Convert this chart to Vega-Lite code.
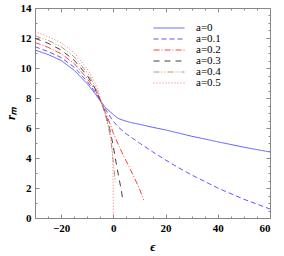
{
  "$schema": "https://vega.github.io/schema/vega-lite/v6.json",
  "width": 235,
  "height": 210,
  "autosize": {"type": "none"},
  "padding": {"left": 35, "top": 8, "right": 14, "bottom": 38},
  "background": "white",
  "config": {
    "view": {"stroke": "#888888", "strokeWidth": 1},
    "axis": {
      "domain": false,
      "grid": false,
      "tickColor": "#888888",
      "labelFont": "Liberation Serif",
      "labelFontWeight": "bold",
      "labelFontSize": 11,
      "labelColor": "black",
      "titleFont": "Liberation Serif",
      "titleColor": "black"
    },
    "legend": {
      "orient": "none", "legendX": 118, "legendY": 14.5, "title": null, "padding": 0,
      "symbolType": "stroke", "symbolSize": 961, "symbolStrokeWidth": 1,
      "labelFont": "Liberation Serif", "labelFontSize": 11, "labelColor": "black", "labelOffset": 11,
      "clipHeight": 11, "rowPadding": -2.4
    }
  },
  "data": {"values": [
    {"a": "a=0", "e": -30, "r": 11.2}, {"a": "a=0", "e": -25, "r": 10.9}, {"a": "a=0", "e": -20, "r": 10.5}, {"a": "a=0", "e": -15, "r": 9.85}, {"a": "a=0", "e": -10, "r": 8.95}, {"a": "a=0", "e": -7, "r": 8.3}, {"a": "a=0", "e": -5, "r": 7.8}, {"a": "a=0", "e": -3, "r": 7.35}, {"a": "a=0", "e": -1, "r": 7.05}, {"a": "a=0", "e": 0, "r": 6.9}, {"a": "a=0", "e": 1, "r": 6.75}, {"a": "a=0", "e": 2, "r": 6.63}, {"a": "a=0", "e": 4, "r": 6.5}, {"a": "a=0", "e": 7, "r": 6.35}, {"a": "a=0", "e": 10, "r": 6.25}, {"a": "a=0", "e": 15, "r": 6.05}, {"a": "a=0", "e": 20, "r": 5.87}, {"a": "a=0", "e": 30, "r": 5.45}, {"a": "a=0", "e": 40, "r": 5.08}, {"a": "a=0", "e": 50, "r": 4.72}, {"a": "a=0", "e": 60, "r": 4.4},
    {"a": "a=0.1", "e": -30, "r": 11.42}, {"a": "a=0.1", "e": -25, "r": 11.1}, {"a": "a=0.1", "e": -20, "r": 10.7}, {"a": "a=0.1", "e": -15, "r": 10.05}, {"a": "a=0.1", "e": -10, "r": 9.1}, {"a": "a=0.1", "e": -7, "r": 8.4}, {"a": "a=0.1", "e": -5, "r": 7.85}, {"a": "a=0.1", "e": -3, "r": 7.25}, {"a": "a=0.1", "e": -1, "r": 6.7}, {"a": "a=0.1", "e": 0, "r": 6.45}, {"a": "a=0.1", "e": 2, "r": 6.05}, {"a": "a=0.1", "e": 5, "r": 5.6}, {"a": "a=0.1", "e": 10, "r": 5.0}, {"a": "a=0.1", "e": 15, "r": 4.42}, {"a": "a=0.1", "e": 20, "r": 3.87}, {"a": "a=0.1", "e": 25, "r": 3.35}, {"a": "a=0.1", "e": 30, "r": 2.87}, {"a": "a=0.1", "e": 40, "r": 2.0}, {"a": "a=0.1", "e": 50, "r": 1.25}, {"a": "a=0.1", "e": 60, "r": 0.6},
    {"a": "a=0.2", "e": -30, "r": 11.7}, {"a": "a=0.2", "e": -25, "r": 11.38}, {"a": "a=0.2", "e": -20, "r": 10.95}, {"a": "a=0.2", "e": -15, "r": 10.3}, {"a": "a=0.2", "e": -10, "r": 9.3}, {"a": "a=0.2", "e": -7, "r": 8.55}, {"a": "a=0.2", "e": -5, "r": 7.85}, {"a": "a=0.2", "e": -3, "r": 7.05}, {"a": "a=0.2", "e": -1, "r": 6.15}, {"a": "a=0.2", "e": 0, "r": 5.65}, {"a": "a=0.2", "e": 2, "r": 4.85}, {"a": "a=0.2", "e": 4, "r": 4.12}, {"a": "a=0.2", "e": 6, "r": 3.42}, {"a": "a=0.2", "e": 8, "r": 2.7}, {"a": "a=0.2", "e": 10, "r": 1.95}, {"a": "a=0.2", "e": 11.6, "r": 1.2},
    {"a": "a=0.3", "e": -30, "r": 11.98}, {"a": "a=0.3", "e": -25, "r": 11.65}, {"a": "a=0.3", "e": -20, "r": 11.2}, {"a": "a=0.3", "e": -15, "r": 10.52}, {"a": "a=0.3", "e": -10, "r": 9.5}, {"a": "a=0.3", "e": -7, "r": 8.65}, {"a": "a=0.3", "e": -5, "r": 7.9}, {"a": "a=0.3", "e": -3, "r": 6.95}, {"a": "a=0.3", "e": -2, "r": 6.35}, {"a": "a=0.3", "e": -1, "r": 5.65}, {"a": "a=0.3", "e": 0, "r": 4.75}, {"a": "a=0.3", "e": 1, "r": 3.75}, {"a": "a=0.3", "e": 2, "r": 2.8}, {"a": "a=0.3", "e": 3, "r": 1.9}, {"a": "a=0.3", "e": 3.6, "r": 1.25},
    {"a": "a=0.4", "e": -30, "r": 12.15}, {"a": "a=0.4", "e": -25, "r": 11.85}, {"a": "a=0.4", "e": -20, "r": 11.42}, {"a": "a=0.4", "e": -15, "r": 10.75}, {"a": "a=0.4", "e": -10, "r": 9.7}, {"a": "a=0.4", "e": -7, "r": 8.78}, {"a": "a=0.4", "e": -5, "r": 7.95}, {"a": "a=0.4", "e": -3, "r": 6.85}, {"a": "a=0.4", "e": -2, "r": 6.15}, {"a": "a=0.4", "e": -1, "r": 5.25}, {"a": "a=0.4", "e": -0.3, "r": 4.2}, {"a": "a=0.4", "e": 0.3, "r": 3.2}, {"a": "a=0.4", "e": 0.8, "r": 2.4},
    {"a": "a=0.5", "e": -30, "r": 12.42}, {"a": "a=0.5", "e": -25, "r": 12.1}, {"a": "a=0.5", "e": -20, "r": 11.68}, {"a": "a=0.5", "e": -15, "r": 11.02}, {"a": "a=0.5", "e": -10, "r": 9.95}, {"a": "a=0.5", "e": -7, "r": 9.0}, {"a": "a=0.5", "e": -6, "r": 8.62}, {"a": "a=0.5", "e": -5, "r": 8.0}, {"a": "a=0.5", "e": -4, "r": 7.45}, {"a": "a=0.5", "e": -3, "r": 6.85}, {"a": "a=0.5", "e": -2, "r": 6.25}, {"a": "a=0.5", "e": -1, "r": 5.6}, {"a": "a=0.5", "e": -0.5, "r": 4.9}, {"a": "a=0.5", "e": -0.2, "r": 3.8}, {"a": "a=0.5", "e": -0.05, "r": 2.0}, {"a": "a=0.5", "e": 0, "r": 0}
  ]},
  "layer": [
    {
      "mark": {"type": "line", "strokeWidth": 1, "clip": true},
      "encoding": {
        "x": {"field": "e", "type": "quantitative",
          "scale": {"domain": [-30, 60], "nice": false, "zero": false},
          "axis": {"orient": "bottom", "title": "ϵ", "titleFontSize": 13, "titleFontStyle": "italic", "titleX": 117.5, "titleY": 28, "titleBaseline": "middle",
            "values": [-25, -20, -15, -10, -5, 0, 5, 10, 15, 20, 25, 30, 35, 40, 45, 50, 55, 60],
            "format": "d",
            "labelExpr": "datum.value % 20 === 0 ? datum.label : ''",
            "tickSize": {"condition": {"test": "datum.value % 20 === 0", "value": -4}, "value": -2},
            "labelPadding": 8}},
        "y": {"field": "r", "type": "quantitative",
          "scale": {"domain": [0, 14], "nice": false, "zero": false},
          "axis": {"orient": "left", "title": "rₘ", "titleFontSize": 13, "titleFontStyle": "italic", "titleX": -25, "titleY": 105, "titleAlign": "center", "titleBaseline": "middle", "titleAngle": -90,
            "values": [0.5, 1, 1.5, 2, 2.5, 3, 3.5, 4, 4.5, 5, 5.5, 6, 6.5, 7, 7.5, 8, 8.5, 9, 9.5, 10, 10.5, 11, 11.5, 12, 12.5, 13, 13.5, 0, 14],
            "format": "d",
            "labelExpr": "datum.value % 2 === 0 ? datum.label : ''",
            "tickSize": {"condition": {"test": "datum.value % 2 === 0", "value": -4}, "value": -2},
            "labelPadding": 8}},
        "color": {"field": "a", "type": "nominal", "title": null,
          "scale": {"domain": ["a=0", "a=0.1", "a=0.2", "a=0.3", "a=0.4", "a=0.5"], "range": ["#5a5aff", "#5a5aff", "#ff4040", "#404040", "#b8967a", "#ff7070"]}},
        "strokeDash": {"field": "a", "type": "nominal", "title": null,
          "scale": {"domain": ["a=0", "a=0.1", "a=0.2", "a=0.3", "a=0.4", "a=0.5"], "range": [[1, 0], [5, 3], [6, 2, 1, 2], [6, 5], [6, 2, 1, 2, 1, 2], [1, 2]]}}
      }
    },
    {
      "mark": {"type": "line", "opacity": 0},
      "encoding": {
        "x": {"field": "e", "type": "quantitative",
          "axis": {"orient": "top", "title": null, "labels": false,
            "values": [-25, -20, -15, -10, -5, 0, 5, 10, 15, 20, 25, 30, 35, 40, 45, 50, 55, 60],
            "tickSize": {"condition": {"test": "datum.value % 20 === 0", "value": -4}, "value": -2}}},
        "y": {"field": "r", "type": "quantitative",
          "axis": {"orient": "right", "title": null, "labels": false,
            "values": [0.5, 1, 1.5, 2, 2.5, 3, 3.5, 4, 4.5, 5, 5.5, 6, 6.5, 7, 7.5, 8, 8.5, 9, 9.5, 10, 10.5, 11, 11.5, 12, 12.5, 13, 13.5, 0, 14],
            "tickSize": {"condition": {"test": "datum.value % 2 === 0", "value": -4}, "value": -2}}},
        "detail": {"field": "a", "type": "nominal"}
      }
    }
  ],
  "resolve": {"axis": {"x": "independent", "y": "independent"}}
}
